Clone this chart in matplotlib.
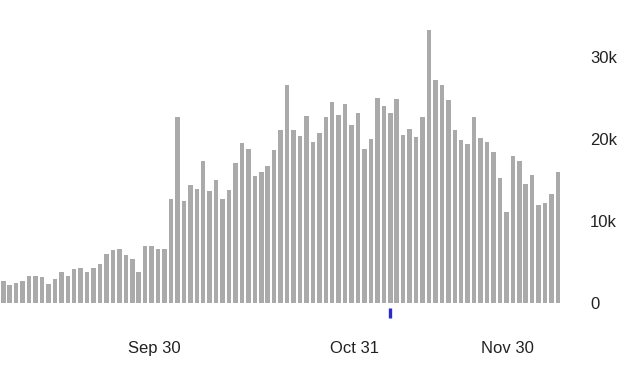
import numpy as np
import matplotlib.pyplot as plt

plt.rcParams['font.family'] = ['Liberation Sans', 'DejaVu Sans']

# daily values (thousands)
daily_k = [2.7, 2.3, 2.5, 2.8, 3.4, 3.4, 3.2, 2.4, 3.0, 3.9,
           3.3, 4.2, 4.3, 3.8, 4.3, 4.8, 6.0, 6.5, 6.7, 5.9,
           5.4, 3.9, 7.0, 7.0, 6.7, 6.7, 12.8, 22.8, 12.5, 14.4,
           14.0, 17.4, 13.7, 15.0, 12.7, 13.8, 17.1, 19.6, 18.9, 15.5,
           16.0, 16.8, 18.7, 21.1, 26.6, 21.1, 20.4, 22.9, 19.7, 20.8,
           22.8, 24.6, 23.0, 24.3, 21.8, 23.2, 18.9, 20.0, 25.1, 24.1,
           23.2, 24.9, 20.5, 21.3, 20.3, 22.8, 33.3, 27.2, 26.7, 24.8,
           21.2, 19.9, 19.5, 22.8, 20.2, 19.7, 18.5, 15.3, 11.1, 18.0,
           17.4, 14.6, 15.7, 12.0, 12.2, 13.3, 16.0]
values = np.array(daily_k) * 1000

x_tick_pos = [23.4, 54.4, 78.1]
x_tick_labels = ["Sep 30", "Oct 31", "Nov 30"]
y_ticks = [0, 10000, 20000, 30000]
y_tick_labels = ["0", "10k", "20k", "30k"]
marker_day = 60

fig = plt.figure(figsize=(6.31, 3.65), dpi=100)
ax = fig.add_axes([0, 0.1685, 565 / 631, 0.7863])

days = np.arange(len(values))
ax.bar(days, values, width=0.7, color="#aaaaaa", edgecolor="none")

ax.set_xlim(-0.51, 87.09)
ax.set_ylim(0, 35000)

ax.set_xticks(x_tick_pos)
ax.set_xticklabels(x_tick_labels)
ax.set_yticks(y_ticks)
ax.set_yticklabels(y_tick_labels)
ax.yaxis.tick_right()
ax.tick_params(axis="x", length=0, pad=27, labelsize=12, labelcolor="#222222")
ax.tick_params(axis="y", length=0, pad=18, labelsize=12, labelcolor="#222222")

for s in ax.spines.values():
    s.set_visible(False)

# little blue mark under the axis
ax.plot([marker_day], [-0.033], marker="|", markersize=7.5, markeredgewidth=2.4,
        color="#2a2acc", transform=ax.get_xaxis_transform(), clip_on=False)

fig.savefig("out.png", dpi=100)
